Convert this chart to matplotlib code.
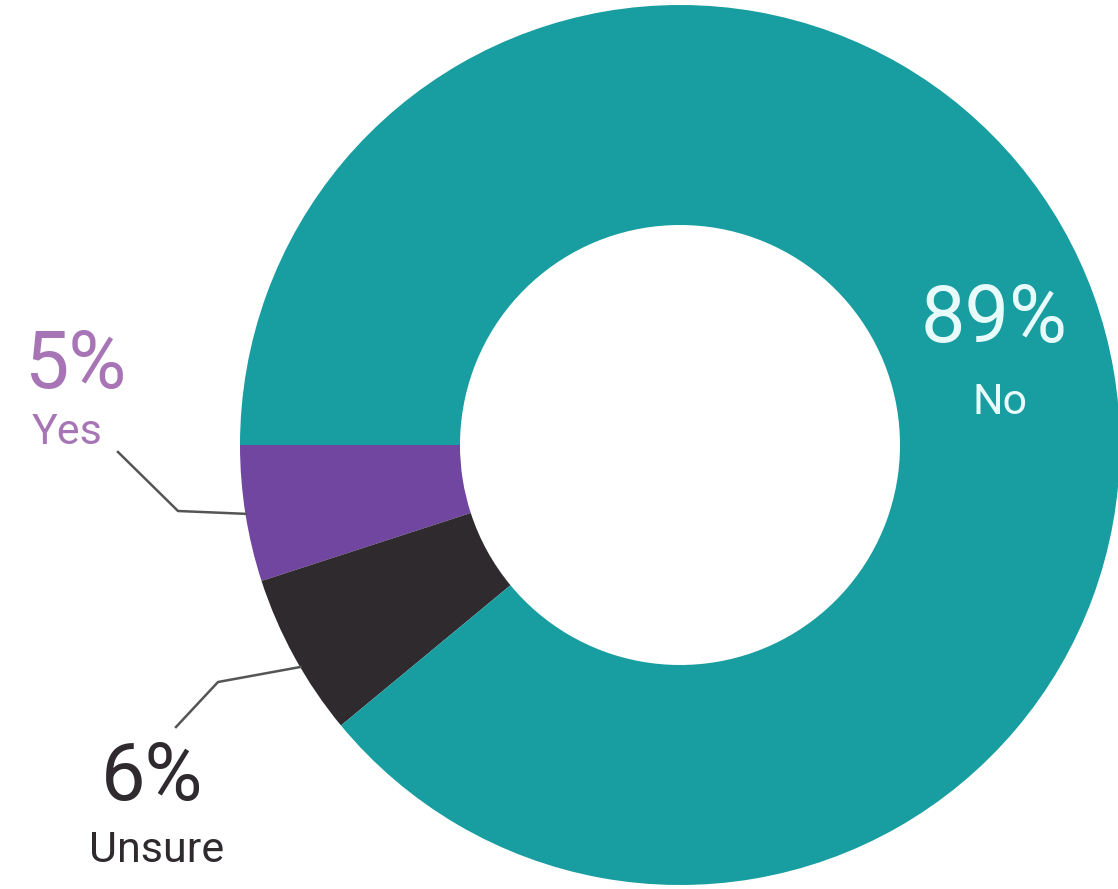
import matplotlib.pyplot as plt
import numpy as np

# survey answers
labels = ['Yes', 'Unsure', 'No']
values = [5, 6, 89]
colors = ['#7146a1', '#2e2a2e', '#189da0']
label_colors = ['#a775b6', '#2e2a2e', '#e8fbfb']

fig = plt.figure(figsize=(11.18, 8.89), dpi=100)
ax = fig.add_axes([0, 0, 1, 1])

cx, cy, R = 680, 444, 440
wedges, _ = ax.pie(values, colors=colors, startangle=180, counterclock=True,
                   radius=R, center=(cx, cy), frame=True,
                   wedgeprops=dict(width=R * 0.5, linewidth=0))
ax.set_xlim(0, 1118)
ax.set_ylim(0, 889)
ax.set_aspect('equal')
ax.axis('off')

font = ['Roboto', 'DejaVu Sans']
big, small = 57, 31

def mid_point(w, r):
    a = np.deg2rad((w.theta1 + w.theta2) / 2)
    return cx + r * np.cos(a), cy + r * np.sin(a)

# Yes label and leader
x0, y0 = mid_point(wedges[0], R)
ax.plot([x0, 178, 118], [y0, 378, 437], color='#555555', lw=1.8)
ax.text(75, 889 - 366, f'{values[0]}%', color=label_colors[0], fontsize=big,
        family=font, ha='center', va='center')
ax.text(67, 889 - 433, labels[0], color=label_colors[0], fontsize=small,
        family=font, ha='center', va='center')

# Unsure label and leader
x1, y1 = mid_point(wedges[1], R)
ax.plot([x1 + 6, 218, 176], [y1 - 10, 207, 162], color='#555555', lw=1.8)
ax.text(152, 889 - 778, f'{values[1]}%', color=label_colors[1], fontsize=big,
        family=font, ha='center', va='center')
ax.text(157, 889 - 850, labels[1], color=label_colors[1], fontsize=small,
        family=font, ha='center', va='center')

# No label inside ring
ax.text(994, 889 - 320, f'{values[2]}%', color=label_colors[2], fontsize=big,
        family=font, ha='center', va='center')
ax.text(1000, 889 - 402, labels[2], color=label_colors[2], fontsize=small,
        family=font, ha='center', va='center')

fig.savefig('out.png', dpi=100)
